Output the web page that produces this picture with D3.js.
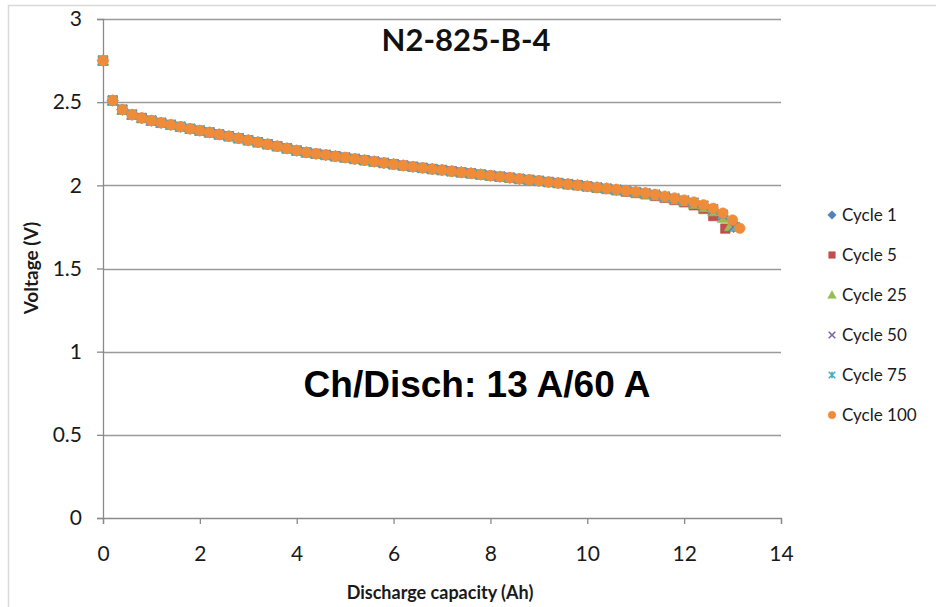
<!DOCTYPE html>
<html>
<head>
<meta charset="utf-8">
<script src="https://cdn.jsdelivr.net/npm/d3@7"></script>
<style>
  html, body { margin: 0; padding: 0; background: #fff; }
  svg { display: block; }
</style>
</head>
<body>
<svg id="chart" width="936" height="607"></svg>
<script>
// Discharge curves of cell N2-825-B-4 at selected cycles.
const cycleNames = ["Cycle 1", "Cycle 5", "Cycle 25", "Cycle 50", "Cycle 75", "Cycle 100"];

// Sampling grid of the logged discharge capacity (Ah)
const capacityAh = [
  0, 0.2, 0.4, 0.6, 0.8, 1.0, 1.2, 1.4, 1.6, 1.8, 2.0, 2.2, 2.4, 2.6, 2.8, 3.0,
  3.2, 3.4, 3.6, 3.8, 4.0, 4.2, 4.4, 4.6, 4.8, 5.0, 5.2, 5.4, 5.6, 5.8, 6.0,
  6.2, 6.4, 6.6, 6.8, 7.0, 7.2, 7.4, 7.6, 7.8, 8.0, 8.2, 8.4, 8.6, 8.8, 9.0,
  9.2, 9.4, 9.6, 9.8, 10.0, 10.2, 10.4, 10.6, 10.8, 11.0, 11.2, 11.4, 11.6,
  11.8, 12.0, 12.2, 12.4, 12.6, 12.8, 13.0
];

// Voltage (V) from 0 to 10 Ah, where all cycles coincide
const plateauV = [
  2.75, 2.51, 2.455, 2.425, 2.405, 2.389, 2.376, 2.364, 2.352, 2.340, 2.329,
  2.318, 2.306, 2.295, 2.283, 2.271, 2.259, 2.247, 2.235, 2.222, 2.209, 2.198,
  2.190, 2.183, 2.175, 2.167, 2.159, 2.151, 2.143, 2.135, 2.127, 2.119, 2.112,
  2.105, 2.098, 2.092, 2.085, 2.078, 2.072, 2.065, 2.058, 2.052, 2.046, 2.039,
  2.033, 2.027, 2.020, 2.014, 2.007, 2.001, 1.994
];

// Voltage (V) from 10.2 Ah on, per cycle
const tailCycle1   = [1.987, 1.981, 1.974, 1.967, 1.960, 1.952, 1.943, 1.932, 1.920, 1.907, 1.893, 1.874, 1.850, 1.815];
const tailCycle5   = [1.985, 1.978, 1.970, 1.962, 1.954, 1.946, 1.936, 1.925, 1.912, 1.898, 1.880, 1.858, 1.815];
const tailCycle25  = [1.987, 1.980, 1.973, 1.966, 1.958, 1.950, 1.941, 1.930, 1.918, 1.905, 1.890, 1.870, 1.845, 1.805];
const tailCycle50  = [1.988, 1.981, 1.975, 1.968, 1.960, 1.953, 1.944, 1.933, 1.921, 1.909, 1.895, 1.877, 1.853, 1.820];
const tailCycle75  = [1.988, 1.982, 1.975, 1.968, 1.961, 1.954, 1.945, 1.934, 1.922, 1.910, 1.897, 1.879, 1.857, 1.825];
const tailCycle100 = [1.988, 1.982, 1.976, 1.969, 1.962, 1.955, 1.946, 1.935, 1.924, 1.912, 1.900, 1.883, 1.862, 1.833, 1.792];

// Final point at the 1.75 V cut-off, per cycle
const cutoffCapacity = [13.02, 12.85, 12.95, 13.02, 13.05, 13.15];
const cutoffVoltage  = [1.750, 1.740, 1.755, 1.750, 1.750, 1.742];

const yTicks = [0, 0.5, 1, 1.5, 2, 2.5, 3];
const xTicks = [0, 2, 4, 6, 8, 10, 12, 14];

const tails = [tailCycle1, tailCycle5, tailCycle25, tailCycle50, tailCycle75, tailCycle100];
const colors = ["#4F81BD", "#C0504D", "#9BBB59", "#8064A2", "#4BACC6", "#EE8C3A"];

const series = cycleNames.map((name, i) => {
  const volts = plateauV.concat(tails[i]);
  const pts = volts.map((v, j) => ({ cap: capacityAh[j], v }));
  pts.push({ cap: cutoffCapacity[i], v: cutoffVoltage[i] });
  return { name, color: colors[i], kind: i, pts };
});

const svg = d3.select("#chart");
const W = 936, H = 607;
const x = d3.scaleLinear().domain([0, 14]).range([103, 781]);
const y = d3.scaleLinear().domain([0, 3]).range([518, 19]);

svg.append("rect").attr("width", W).attr("height", H).attr("fill", "#fff");
// chart area frame
svg.append("rect")
  .attr("x", 8.5).attr("y", 5.5).attr("width", W + 10).attr("height", H + 10)
  .attr("fill", "none").attr("stroke", "#d9d9d9").attr("stroke-width", 1.5);

const tickFont = "Lato, 'Open Sans', sans-serif";

// horizontal gridlines
svg.append("g").selectAll("line")
  .data(yTicks.filter(t => t > 0))
  .join("line")
  .attr("x1", x(0)).attr("x2", x(14))
  .attr("y1", d => Math.round(y(d)) + 0.5).attr("y2", d => Math.round(y(d)) + 0.5)
  .attr("stroke", "#9a9a9a").attr("stroke-width", 1.3);

// axes
const yAxis = svg.append("g")
  .attr("transform", `translate(${x(0)},0)`)
  .call(d3.axisLeft(y).tickValues(yTicks).tickFormat(d3.format("")).tickSize(6).tickPadding(15));
const xAxis = svg.append("g")
  .attr("transform", `translate(0,${y(0)})`)
  .call(d3.axisBottom(x).tickValues(xTicks).tickFormat(d3.format("d")).tickSize(6).tickPadding(22));

[yAxis, xAxis].forEach(g => {
  g.select(".domain").attr("stroke", "#8a8a8a").attr("stroke-width", 1.3);
  g.selectAll(".tick line").attr("stroke", "#8a8a8a").attr("stroke-width", 1.3);
  g.selectAll(".tick text")
    .attr("fill", "#1a1a1a")
    .style("font-family", tickFont)
    .style("font-size", "21px");
});

// marker shapes in the Excel style
function markerPath(kind, s) {
  const h = s / 2;
  switch (kind) {
    case 0: return `M0,${-h - 1}L${h + 1},0L0,${h + 1}L${-h - 1},0Z`;
    case 1: return `M${-h},${-h}H${h}V${h}H${-h}Z`;
    case 2: return `M0,${-h - 1}L${h + 1},${h}H${-h - 1}Z`;
    case 3: return `M${-h},${-h}L${h},${h}M${h},${-h}L${-h},${h}`;
    case 4: return `M${-h},${-h}L${h},${h}M${h},${-h}L${-h},${h}M0,${-h}V${h}`;
    default: return d3.symbol(d3.symbolCircle, Math.PI * (h + 0.5) * (h + 0.5))();
  }
}
function styleMarker(sel, s) {
  sel.attr("fill", s.kind === 3 || s.kind === 4 ? "none" : s.color)
     .attr("stroke", s.color)
     .attr("stroke-width", s.kind === 3 || s.kind === 4 ? 1.6 : 0.6);
}

// data markers; later cycles drawn on top
series.forEach(s => {
  svg.append("g").selectAll("path")
    .data(s.pts)
    .join("path")
    .attr("d", markerPath(s.kind, 9.5))
    .attr("transform", d => `translate(${x(d.cap)},${y(d.v)})`)
    .call(sel => styleMarker(sel, s));
});

// legend
const legend = svg.append("g");
series.forEach((s, i) => {
  const ly = 215 + i * 40;
  legend.append("path")
    .attr("d", markerPath(s.kind, 6.5))
    .attr("transform", `translate(832,${ly})`)
    .call(sel => styleMarker(sel, s));
  legend.append("text")
    .attr("x", 842).attr("y", ly)
    .attr("dy", "0.35em")
    .attr("fill", "#1a1a1a")
    .style("font-family", tickFont)
    .style("font-size", "17px")
    .text(s.name);
});

// titles and annotation
svg.append("text")
  .attr("x", 466).attr("y", 51)
  .attr("text-anchor", "middle")
  .style("font-family", tickFont).style("font-weight", "bold").style("font-size", "31px")
  .attr("fill", "#111")
  .text("N2-825-B-4");

svg.append("text")
  .attr("x", 477).attr("y", 397)
  .attr("text-anchor", "middle")
  .style("font-family", "Arial, 'Liberation Sans', sans-serif").style("font-weight", "bold").style("font-size", "37px")
  .attr("fill", "#000")
  .text("Ch/Disch: 13 A/60 A");

svg.append("text")
  .attr("x", 440).attr("y", 599)
  .attr("text-anchor", "middle")
  .style("font-family", tickFont).style("font-weight", "bold").style("font-size", "18px")
  .attr("fill", "#1a1a1a")
  .text("Discharge capacity (Ah)");

svg.append("text")
  .attr("transform", "translate(38,268) rotate(-90)")
  .attr("text-anchor", "middle")
  .style("font-family", tickFont).style("font-weight", "bold").style("font-size", "19px")
  .attr("fill", "#1a1a1a")
  .text("Voltage (V)");
</script>
</body>
</html>
